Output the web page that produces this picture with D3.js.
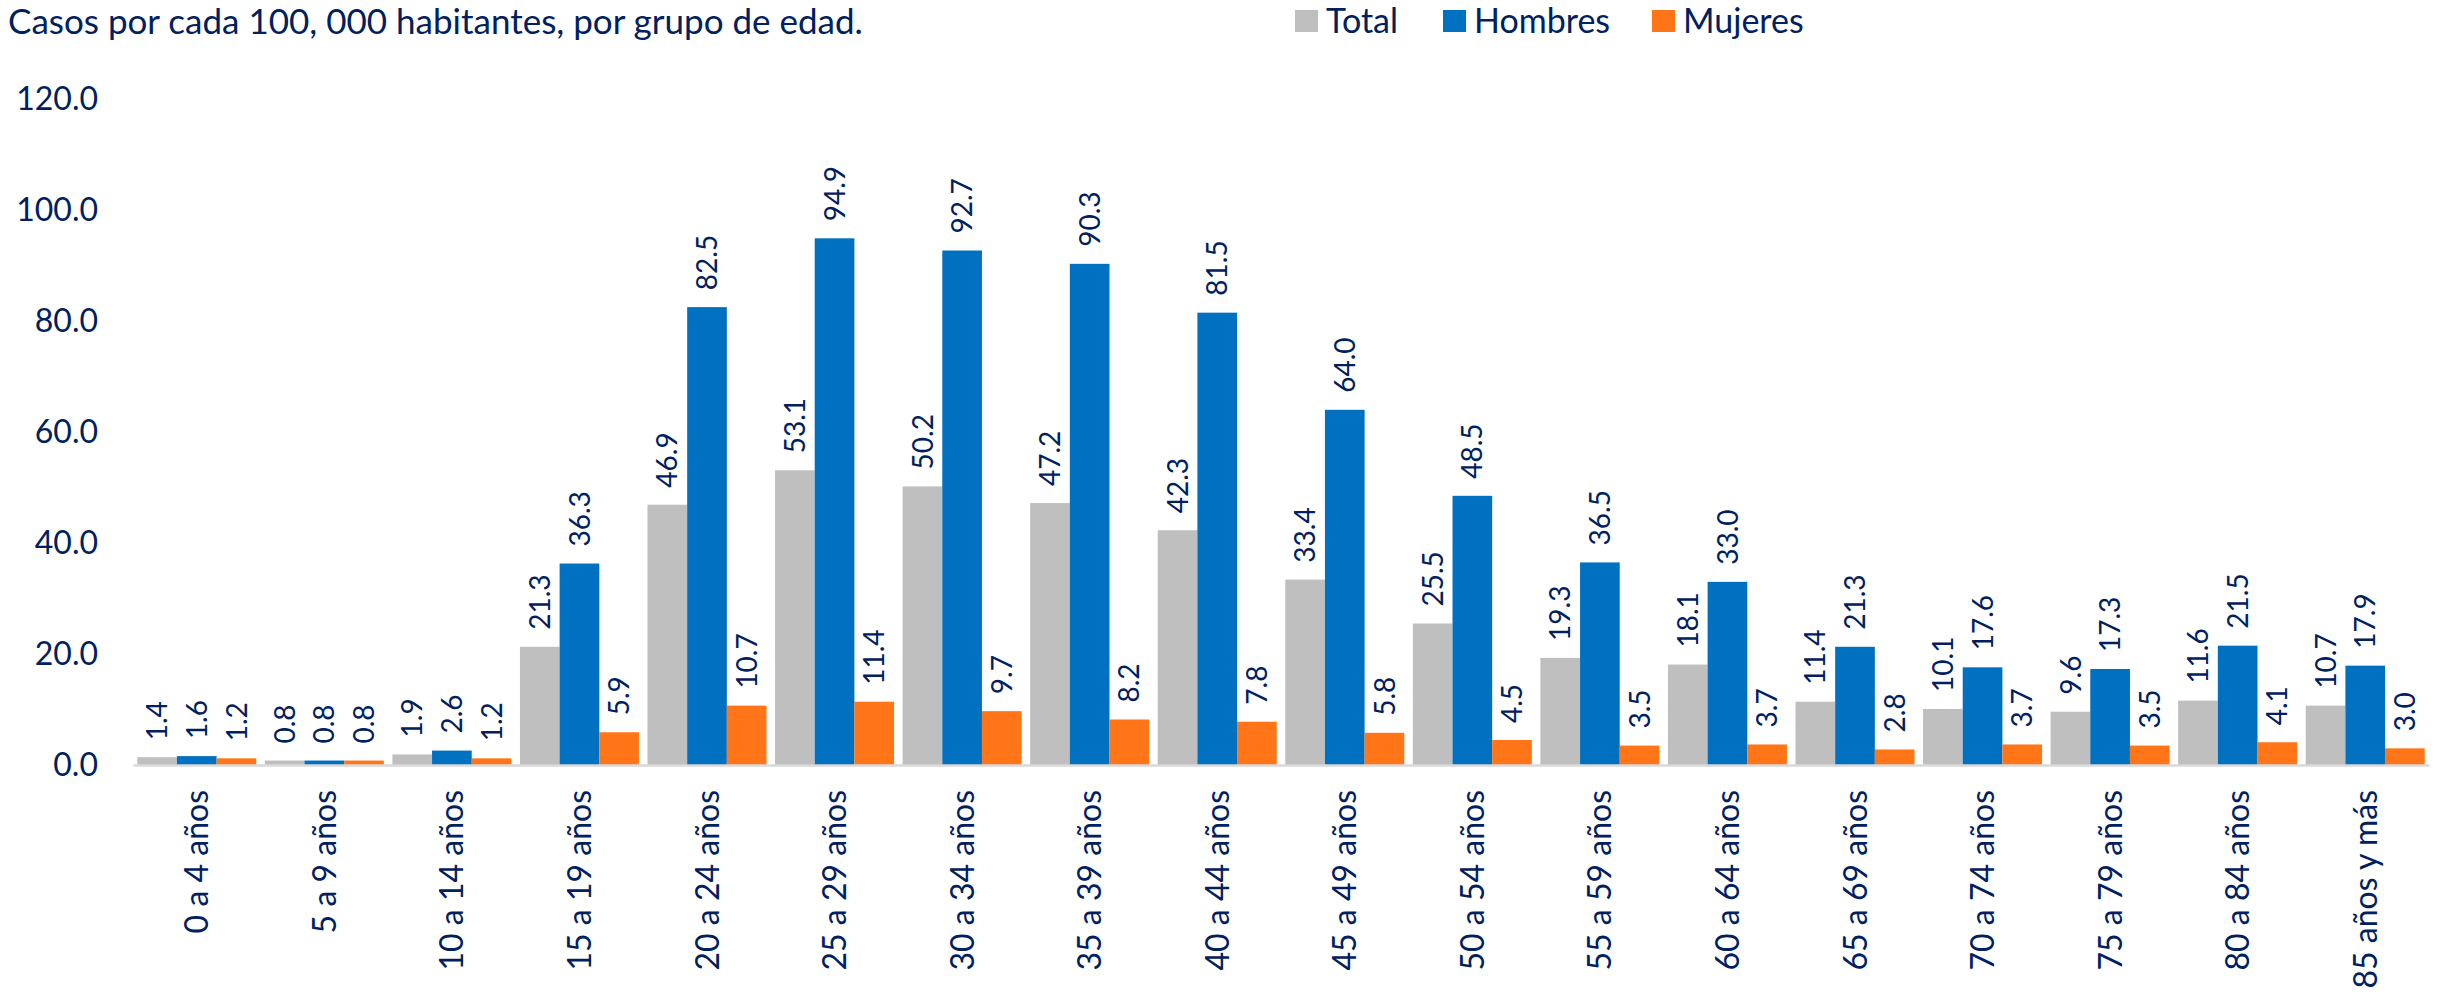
<!DOCTYPE html>
<html>
<head>
<meta charset="utf-8" />
<title>Casos por grupo de edad</title>
<script src="https://d3js.org/d3.v7.min.js"></script>
<style>
  body, html {
    margin: 0;
    background: #ffffff;
    font-family: Lato, sans-serif;
  }
  text { fill: #002060; }
</style>
</head>
<body>
<svg id="viz"></svg>

<script>

var grupos = ["0 a 4 años", "5 a 9 años", "10 a 14 años", "15 a 19 años", "20 a 24 años",
  "25 a 29 años", "30 a 34 años", "35 a 39 años", "40 a 44 años", "45 a 49 años",
  "50 a 54 años", "55 a 59 años", "60 a 64 años", "65 a 69 años", "70 a 74 años",
  "75 a 79 años", "80 a 84 años", "85 años y más"];

var total   = [1.4, 0.8, 1.9, 21.3, 46.9, 53.1, 50.2, 47.2, 42.3, 33.4, 25.5, 19.3, 18.1, 11.4, 10.1, 9.6, 11.6, 10.7];
var hombres = [1.6, 0.8, 2.6, 36.3, 82.5, 94.9, 92.7, 90.3, 81.5, 64.0, 48.5, 36.5, 33.0, 21.3, 17.6, 17.3, 21.5, 17.9];
var mujeres = [1.2, 0.8, 1.2, 5.9, 10.7, 11.4, 9.7, 8.2, 7.8, 5.8, 4.5, 3.5, 3.7, 2.8, 3.7, 3.5, 4.1, 3.0];

var series = ["Total", "Hombres", "Mujeres"];
var yTicks = [0, 20, 40, 60, 80, 100, 120];

var colores = {"Total": "#BFBFBF", "Hombres": "#0070C0", "Mujeres": "#FF7518"};
var valores = {"Total": total, "Hombres": hombres, "Mujeres": mujeres};

var width = 2441, height = 1005;

var svg = d3.select("#viz")
  .attr("width", width)
  .attr("height", height);

var x0 = d3.scaleBand()
  .domain(grupos)
  .range([133, 2429])
  .paddingInner(0.067)
  .paddingOuter(0.0335);

var x1 = d3.scaleBand()
  .domain(series)
  .range([0, x0.bandwidth()]);

var y = d3.scaleLinear()
  .domain([0, 120])
  .range([765, 99]);

// titulo
svg.append("text")
  .attr("x", 8)
  .attr("y", 34)
  .style("font-size", "35px")
  .text("Casos por cada 100, 000 habitantes, por grupo de edad.");

// leyenda
var leyX = {"Total": 1295, "Hombres": 1443, "Mujeres": 1652};
var ley = svg.selectAll("g.ley")
  .data(series)
  .enter().append("g")
  .attr("class", "ley")
  .attr("transform", function(d) { return "translate(" + leyX[d] + ",10)"; });
ley.append("rect")
  .attr("width", 23).attr("height", 22)
  .style("fill", function(d) { return colores[d]; });
ley.append("text")
  .attr("x", 31).attr("y", 11)
  .attr("dy", "0.36em")
  .style("font-size", "34px")
  .text(function(d) { return d; });

// eje y
var yAxis = svg.append("g")
  .attr("transform", "translate(98,0)")
  .call(d3.axisLeft(y).tickValues(yTicks).tickSize(0).tickPadding(0).tickFormat(d3.format(".1f")));
yAxis.select(".domain").remove();
yAxis.selectAll("text")
  .style("font-family", "Lato, sans-serif")
  .style("font-size", "32px")
  .style("fill", "#002060");

// barras
var filas = grupos.map(function(g, i) {
  return series.map(function(s) { return {grupo: g, serie: s, valor: valores[s][i]}; });
});

var grp = svg.selectAll("g.grupo")
  .data(filas)
  .enter().append("g")
  .attr("class", "grupo")
  .attr("transform", function(d) { return "translate(" + x0(d[0].grupo) + ",0)"; });

grp.selectAll("rect")
  .data(function(d) { return d; })
  .enter().append("rect")
  .attr("x", function(d) { return x1(d.serie); })
  .attr("y", function(d) { return y(d.valor); })
  .attr("width", x1.bandwidth())
  .attr("height", function(d) { return y(0) - y(d.valor); })
  .style("fill", function(d) { return colores[d.serie]; });

grp.selectAll("text.val")
  .data(function(d) { return d; })
  .enter().append("text")
  .attr("class", "val")
  .attr("transform", function(d) {
    return "translate(" + (x1(d.serie) + x1.bandwidth() / 2) + "," + (y(d.valor) - 17) + ") rotate(-90)";
  })
  .attr("dy", "0.36em")
  .style("font-size", "28px")
  .text(function(d) { return d.valor.toFixed(1); });

// eje x
var xAxis = svg.append("g")
  .attr("transform", "translate(0," + y(0) + ")")
  .call(d3.axisBottom(x0).tickSize(0).tickFormat(""));
xAxis.select(".domain")
  .style("stroke", "#D9D9D9")
  .style("stroke-width", 2.5);

svg.selectAll("text.cat")
  .data(grupos)
  .enter().append("text")
  .attr("class", "cat")
  .attr("transform", function(d) {
    return "translate(" + (x0(d) + x0.bandwidth() / 2) + ",790) rotate(-90)";
  })
  .attr("text-anchor", "end")
  .attr("dy", "0.36em")
  .style("font-size", "32px")
  .text(function(d) { return d; });

</script>
</body>
</html>
